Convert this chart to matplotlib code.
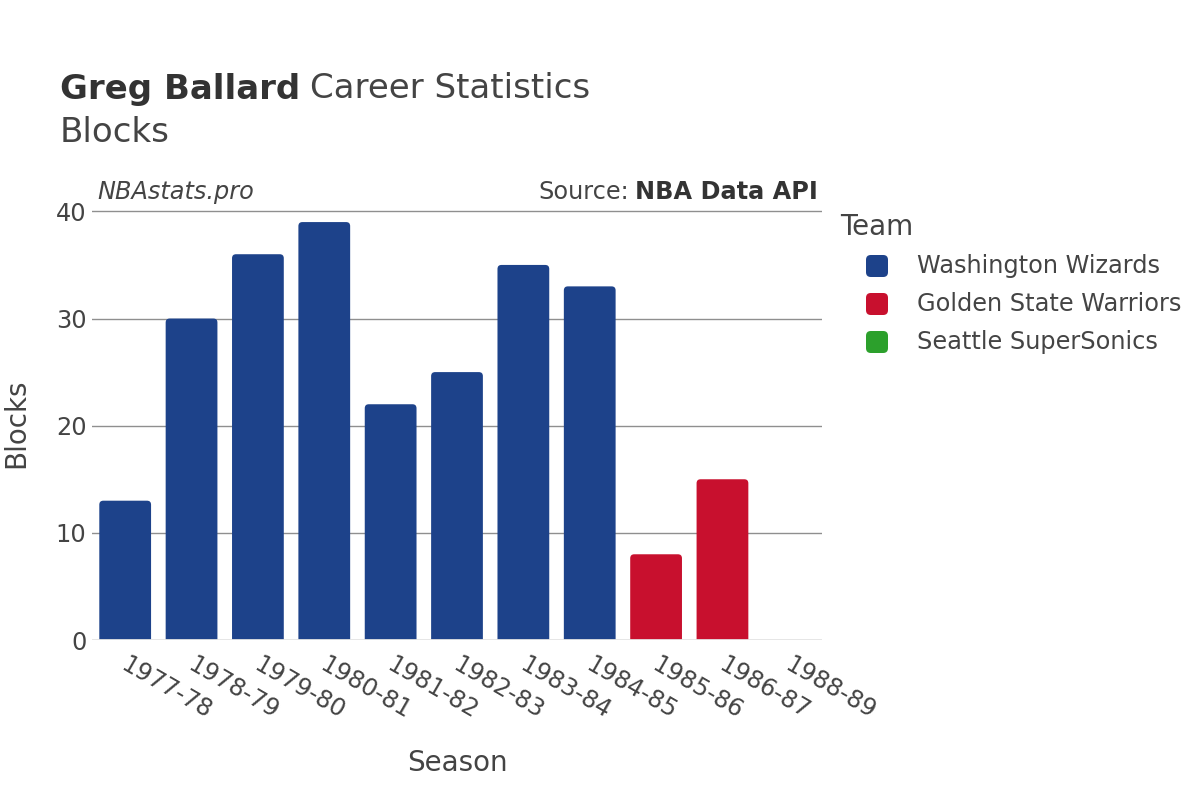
import matplotlib
matplotlib.use("Agg")
import matplotlib.pyplot as plt
from matplotlib.patches import FancyBboxPatch

seasons = ["1977-78", "1978-79", "1979-80", "1980-81", "1981-82", "1982-83",
           "1983-84", "1984-85", "1985-86", "1986-87", "1988-89"]
blocks = [13, 30, 36, 39, 22, 25, 35, 33, 8, 15, 0]
teams = ["Washington Wizards"] * 8 + ["Golden State Warriors"] * 2 + ["Seattle SuperSonics"]
team_order = ["Washington Wizards", "Golden State Warriors", "Seattle SuperSonics"]
team_colors = {"Washington Wizards": "#1D428A",
               "Golden State Warriors": "#C8102E",
               "Seattle SuperSonics": "#2CA02C"}

plt.rcParams['font.family'] = ['DejaVu Sans']
text_color = "#444444"

fig = plt.figure(figsize=(12, 8), dpi=100)
ax = fig.add_axes([92/1200, 160/800, 730/1200, 434/800])

ymax = 40.5
ax.set_xlim(-0.5, len(seasons) - 0.5)
ax.set_ylim(0, ymax)

bars = ax.bar(range(len(seasons)), blocks, width=0.78,
              color=[team_colors[t] for t in teams], zorder=2)

# Replace with rounded-top bars
px_x = 730 / len(seasons)
px_y = 434 / ymax
r_px = 4.0
r_x = r_px / px_x
aspect = px_x / px_y
for b in bars:
    x, w, h = b.get_x(), b.get_width(), b.get_height()
    col = b.get_facecolor()
    b.remove()
    if h <= 0:
        continue
    rect = FancyBboxPatch((x, -1.0), w, h + 1.0,
                          boxstyle=f"round,pad=0,rounding_size={r_x}",
                          mutation_aspect=aspect, facecolor=col,
                          edgecolor="none", zorder=2, clip_on=True)
    ax.add_patch(rect)

ax.set_yticks([0, 10, 20, 30, 40])
ax.yaxis.grid(True, color="#8f8f8f", linewidth=1, zorder=1)
ax.set_axisbelow(True)
ax.axhline(0, color="#e6e6e6", linewidth=2, zorder=3)
for s in ax.spines.values():
    s.set_visible(False)
ax.tick_params(axis='both', length=0, labelsize=17.3, labelcolor=text_color)
ax.tick_params(axis='y', pad=4)
ax.set_xticks(range(len(seasons)))
ax.set_xticklabels(seasons, rotation=-30, ha='left', va='top',
                   rotation_mode='anchor')
for lbl in ax.get_xticklabels():
    lbl.set_x(lbl.get_position()[0])
ax.tick_params(axis='x', pad=9)
# small horizontal shift of x tick labels to match reference anchoring
import matplotlib.transforms as mtransforms
offset = mtransforms.ScaledTranslation(4/100, 0, fig.dpi_scale_trans)
for lbl in ax.get_xticklabels():
    lbl.set_transform(lbl.get_transform() + offset)

ax.set_xlabel("Season", fontsize=20, color=text_color, labelpad=18)
ax.set_ylabel("Blocks", fontsize=20, color=text_color, labelpad=18)

# Title
fig.text(60/1200, 1 - 89/800, "Greg Ballard", fontsize=24.5, fontweight='bold',
         color="#333333", va='center', ha='left')
fig.canvas.draw()
bb = fig.texts[0].get_window_extent()
fig.text(bb.x1/1200 + 0.008, 1 - 89/800, "Career Statistics", fontsize=24.5,
         color=text_color, va='center', ha='left')
fig.text(60/1200, 1 - 133/800, "Blocks", fontsize=24.5, color=text_color,
         va='center', ha='left')

# Annotations
fig.text(97/1200, 1 - 192/800, "NBAstats.pro", fontsize=17.3, style='italic',
         color=text_color, va='center', ha='left')
src = fig.text(818/1200, 1 - 192/800, "NBA Data API", fontsize=17.3,
               fontweight='bold', color="#333333", va='center', ha='right')
fig.canvas.draw()
sb = src.get_window_extent()
fig.text(sb.x0/1200 - 0.005, 1 - 192/800, "Source:", fontsize=17.3,
         color=text_color, va='center', ha='right')

# Legend
fig.text(840/1200, 1 - 227/800, "Team", fontsize=20, color=text_color,
         va='center', ha='left')
for i, tm in enumerate(team_order):
    yc = 1 - (266 + 38 * i)/800
    fig.patches.append(FancyBboxPatch((866/1200, yc - 11/800), 22/1200, 22/800,
                                      boxstyle="round,pad=0,rounding_size=0.004",
                                      mutation_aspect=1.5,
                                      transform=fig.transFigure,
                                      facecolor=team_colors[tm], edgecolor='none'))
    fig.text(917/1200, yc, tm, fontsize=17.3, color=text_color,
             va='center', ha='left')

fig.savefig("out.png", dpi=100, facecolor="white")
